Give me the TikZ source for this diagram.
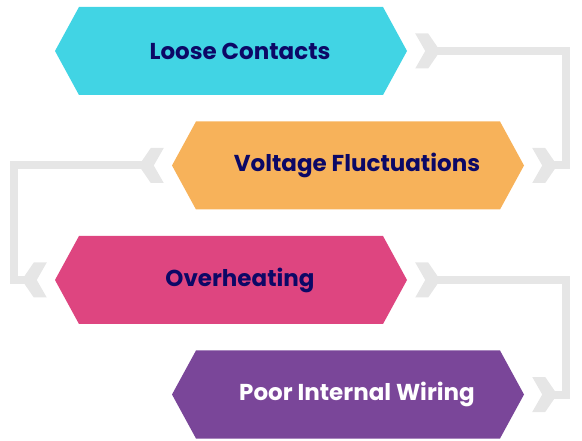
\documentclass[tikz,border=0pt]{standalone}
\usepackage{fontspec}
\setmainfont{Poppins}
\usetikzlibrary{shapes.symbols}

\definecolor{cyanbox}{HTML}{41D4E4}
\definecolor{orangebox}{HTML}{F7B25A}
\definecolor{pinkbox}{HTML}{DE4580}
\definecolor{purplebox}{HTML}{7A4699}
\definecolor{navytext}{HTML}{0C0866}
\definecolor{linkgray}{HTML}{E6E6E6}

\tikzset{
  chevr/.pic={\fill[linkgray] (-12.5,-17.5) -- (0.5,-17.5) -- (12.5,0) -- (0.5,17.5) -- (-12.5,17.5) -- (-2.5,0) -- cycle;},
  chevl/.pic={\fill[linkgray] (12.5,-17.5) -- (-0.5,-17.5) -- (-12.5,0) -- (-0.5,17.5) -- (12.5,17.5) -- (2.5,0) -- cycle;}
}

\begin{document}
\begin{tikzpicture}[
  x=1pt, y=-1pt,
  hexa/.style={signal,signal to=east and west,signal pointer angle=122.8,minimum width=352pt,minimum height=88pt,inner sep=0pt,draw=none},
  lbl/.style={font=\fontsize{23}{27}\selectfont\bfseries,text=navytext,xshift=9pt},
  link/.style={draw=linkgray,line width=8pt}
]
  \useasboundingbox (0,0) rectangle (582,441);
  \node[hexa,fill=cyanbox,label={[lbl]center:Loose Contacts}] (h1) at (231,51) {};
  \node[hexa,fill=orangebox,label={[lbl]center:Voltage Fluctuations}] (h2) at (348,165.5) {};
  \node[hexa,fill=pinkbox,label={[lbl]center:Overheating}] (h3) at (231,280) {};
  \node[hexa,fill=purplebox,label={[lbl,text=white]center:Poor Internal Wiring}] (h4) at (348,394.5) {};
  % chevron spots
  \coordinate (c1) at ([xshift=20.5pt]h1.east);
  \coordinate (c2) at ([xshift=20.5pt]h2.east);
  \coordinate (c3) at ([xshift=-20.5pt]h2.west);
  \coordinate (c4) at ([xshift=-20.5pt]h3.west);
  \coordinate (c5) at ([xshift=20.5pt]h3.east);
  \coordinate (c6) at ([xshift=20.5pt]h4.east);
  \coordinate (rbar) at (566,0);
  \coordinate (lbar) at (14,0);
  \draw[link] (c1) -| (rbar |- c2) -- (c2);
  \draw[link] (c3) -| (lbar |- c4) -- (c4);
  \draw[link] (c5) -| (rbar |- c6) -- (c6);
  \pic at (c1) {chevr};
  \pic at (c2) {chevr};
  \pic at (c3) {chevl};
  \pic at (c4) {chevl};
  \pic at (c5) {chevr};
  \pic at (c6) {chevr};
\end{tikzpicture}
\end{document}
